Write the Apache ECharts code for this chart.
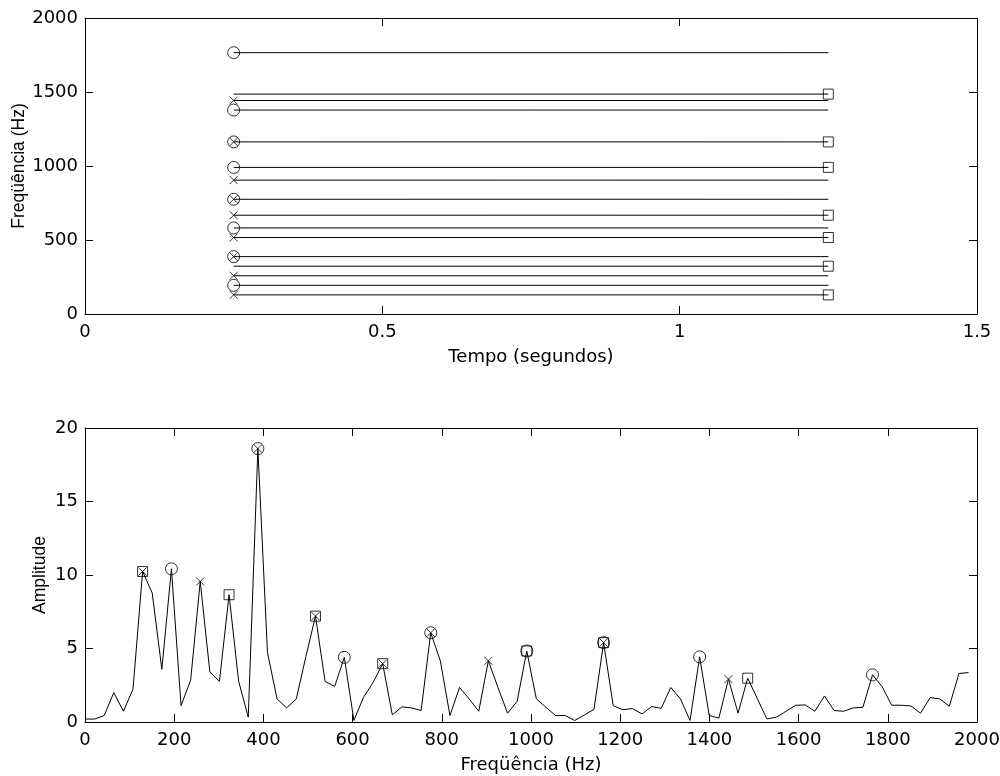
<!DOCTYPE html>
<html>
<head>
<meta charset="utf-8">
<script src="https://cdn.jsdelivr.net/npm/echarts@6/dist/echarts.min.js"></script>
<style>
html,body{margin:0;padding:0;background:#fff;}
#c{width:1000px;height:776px;}
</style>
</head>
<body>
<div id="c"></div>
<script>
// ---- data ----
const binHz = 21.533; // spectrum bin spacing (Hz)
const amplitude = [
  0.2, 0.2, 0.44, 2.0, 0.73, 2.24, 10.24, 8.77, 3.59, 10.42,
  1.11, 2.85, 9.56, 3.41, 2.76, 8.66, 2.76, 0.33, 18.6, 4.72,
  1.57, 0.96, 1.57, 4.45, 7.2, 2.76, 2.42, 4.4, 0.1, 1.68,
  2.69, 3.97, 0.48, 1.03, 0.96, 0.78, 6.07, 4.16, 0.44, 2.35,
  1.57, 0.73, 4.16, 2.35, 0.6, 1.41, 4.83, 1.57, 1.0, 0.44,
  0.44, 0.1, 0.48, 0.86, 5.4, 1.11, 0.84, 0.91, 0.55, 1.05,
  0.93, 2.35, 1.57, 0.1, 4.43, 0.44, 0.26, 2.92, 0.6, 2.98,
  1.6, 0.21, 0.33, 0.73, 1.14, 1.16, 0.73, 1.77, 0.78, 0.73,
  0.96, 1.0, 3.21, 2.4, 1.14, 1.14, 1.09, 0.6, 1.66, 1.57,
  1.07, 3.3, 3.36
];
const circleFreqs = [193.8, 387.6, 581.4, 775.2, 990.5, 1162.8, 1378.1, 1765.7];
const crossFreqs  = [129.2, 258.4, 387.6, 516.8, 667.5, 775.2, 904.4, 1162.8, 1442.6];
const squareFreqs = [129.2, 323.0, 516.8, 667.5, 990.5, 1162.8, 1485.7];
const tStart = 0.25, tEnd = 1.25;

// ---- build ----
const FONT_H = '"DejaVu Sans", sans-serif';
const FONT_V = '"Liberation Sans", Arial, sans-serif';
const spectrum = amplitude.map((a, k) => [k * binHz, a]);
const ampAt = f => amplitude[Math.round(f / binHz)];
const allFreqs = Array.from(new Set([...circleFreqs, ...crossFreqs, ...squareFreqs])).sort((a,b)=>a-b);

const hStyle = {color:'#000', fontFamily:FONT_H, fontSize:18};
const vStyle = {color:'#000', fontFamily:FONT_V, fontSize:17.5};
function axis(gridIndex, pos, min, max, interval, showLabel, name, nameGap, vertical) {
  const a = {
    type:'value', gridIndex, position:pos, min, max, interval,
    axisLine:{show:true, onZero:false, lineStyle:{color:'#000', width:1}},
    axisTick:{show:true, inside:true, length:8, lineStyle:{color:'#000', width:1}},
    splitLine:{show:false},
    axisLabel:Object.assign({show:showLabel, margin:(pos==='left'?7:9), formatter:v=>String(v)}, hStyle)
  };
  if (name) {
    a.name = name; a.nameLocation = 'middle'; a.nameGap = nameGap;
    a.nameMoveOverlap = false;
    a.nameTextStyle = Object.assign({}, vertical ? vStyle : hStyle);
  }
  return a;
}

const markerStyle = {color:'rgba(0,0,0,0)', borderColor:'#000', borderWidth:1};
const crossSymbol = 'path://M0,0L10,10M10,0L0,10';

const series = [];
// top: horizontal tracks
allFreqs.forEach(f => {
  series.push({type:'line', xAxisIndex:0, yAxisIndex:0, data:[[tStart,f],[tEnd,f]],
    symbol:'none', lineStyle:{color:'#000', width:1}, silent:true, z:2});
});
series.push({type:'scatter', xAxisIndex:0, yAxisIndex:0, symbol:'circle', symbolSize:12,
  data:circleFreqs.map(f=>[tStart,f]), itemStyle:markerStyle, z:3});
series.push({type:'scatter', xAxisIndex:0, yAxisIndex:0, symbol:crossSymbol, symbolSize:8,
  data:crossFreqs.map(f=>[tStart,f]), itemStyle:markerStyle, z:3});
series.push({type:'scatter', xAxisIndex:0, yAxisIndex:0, symbol:'rect', symbolSize:10,
  data:squareFreqs.map(f=>[tEnd,f]), itemStyle:markerStyle, z:3});
// bottom: spectrum
series.push({type:'line', xAxisIndex:2, yAxisIndex:2, data:spectrum, symbol:'none',
  lineStyle:{color:'#000', width:1}, z:2});
series.push({type:'scatter', xAxisIndex:2, yAxisIndex:2, symbol:'circle', symbolSize:12,
  data:circleFreqs.map(f=>[Math.round(f/binHz)*binHz, ampAt(f)]), itemStyle:markerStyle, z:3});
series.push({type:'scatter', xAxisIndex:2, yAxisIndex:2, symbol:crossSymbol, symbolSize:8,
  data:crossFreqs.map(f=>[Math.round(f/binHz)*binHz, ampAt(f)]), itemStyle:markerStyle, z:3});
series.push({type:'scatter', xAxisIndex:2, yAxisIndex:2, symbol:'rect', symbolSize:10,
  data:squareFreqs.map(f=>[Math.round(f/binHz)*binHz, ampAt(f)]), itemStyle:markerStyle, z:3});

const option = {
  animation:false,
  backgroundColor:'#fff',
  grid:[
    {left:85, top:18, width:892, height:296, containLabel:false, outerBoundsMode:'none'},
    {left:85, top:428, width:892, height:294, containLabel:false, outerBoundsMode:'none'}
  ],
  xAxis:[
    axis(0,'bottom',0,1.5,0.5,true,'Tempo (segundos)',34),
    axis(0,'top',0,1.5,0.5,false),
    axis(1,'bottom',0,2000,200,true,'Freqüência (Hz)',34),
    axis(1,'top',0,2000,200,false)
  ],
  yAxis:[
    axis(0,'left',0,2000,500,true,'Freqüência (Hz)',57,true),
    axis(0,'right',0,2000,500,false),
    axis(1,'left',0,20,5,true,'Amplitude',36,true),
    axis(1,'right',0,20,5,false)
  ],
  series
};
const chart = echarts.init(document.getElementById('c'), null, {renderer:'canvas'});
chart.setOption(option);
</script>
</body>
</html>
